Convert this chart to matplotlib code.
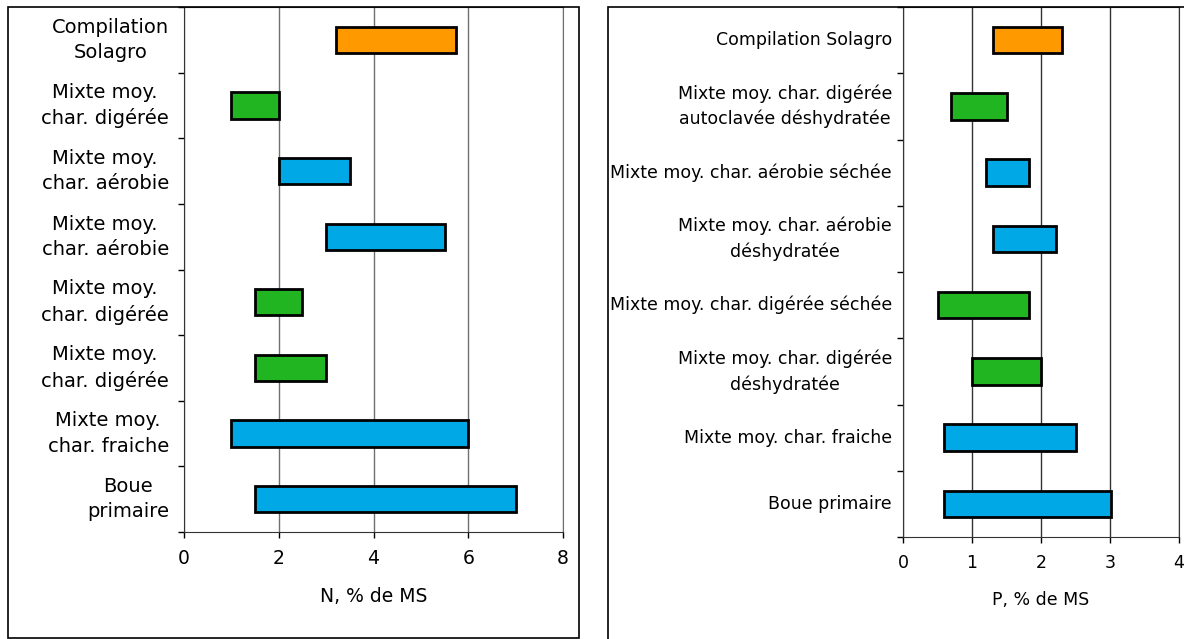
import matplotlib
matplotlib.use('Agg')
import matplotlib.pyplot as plt
from matplotlib.patches import Rectangle

# ── data (top to bottom) ──
n_labels = ['Compilation\nSolagro', 'Mixte moy.\nchar. digérée', 'Mixte moy.\nchar. aérobie',
            'Mixte moy.\nchar. aérobie', 'Mixte moy.\nchar. digérée', 'Mixte moy.\nchar. digérée',
            'Mixte moy.\nchar. fraiche', 'Boue\nprimaire']
n_low = [3.2, 1.0, 2.0, 3.0, 1.5, 1.5, 1.0, 1.5]
n_high = [5.75, 2.0, 3.5, 5.5, 2.5, 3.0, 6.0, 7.0]
n_kind = ['ref', 'dig', 'aer', 'aer', 'dig', 'dig', 'aer', 'aer']

p_labels = ['Compilation Solagro', 'Mixte moy. char. digérée\nautoclavée déshydratée',
            'Mixte moy. char. aérobie séchée', 'Mixte moy. char. aérobie\ndéshydratée',
            'Mixte moy. char. digérée séchée', 'Mixte moy. char. digérée\ndéshydratée',
            'Mixte moy. char. fraiche', 'Boue primaire']
p_low = [1.3, 0.7, 1.2, 1.3, 0.5, 1.0, 0.6, 0.6]
p_high = [2.3, 1.5, 1.82, 2.22, 1.82, 2.0, 2.5, 3.02]
p_kind = ['ref', 'dig', 'aer', 'aer', 'dig', 'dig', 'aer', 'aer']

colors = {'ref': '#FF9900', 'dig': '#21B521', 'aer': '#00A8E6'}

W, H = 1184, 639
fig = plt.figure(figsize=(W / 100, H / 100), dpi=100)


def px(x0, y0, x1, y1):
    return [x0 / W, 1 - y1 / H, (x1 - x0) / W, (y1 - y0) / H]


def panel(rect, labels, low, high, kind, xmax, xlabel, lab_fs, lab_ls, tick_fs, grid_col):
    ax = fig.add_axes(rect)
    n = len(labels)
    ypos = [n - 1 - i for i in range(n)]
    widths = [h - l for l, h in zip(low, high)]
    ax.barh(ypos, widths, left=low, height=0.4, color=[colors[k] for k in kind],
            edgecolor='black', linewidth=2, zorder=3)
    ax.set_xlim(0, xmax)
    ax.set_ylim(-0.5, n - 0.5)
    ax.set_xticks(range(0, xmax + 1, 2 if xmax == 8 else 1))
    ax.tick_params(axis='x', labelsize=tick_fs, length=4, width=1, pad=8)
    ax.set_yticks([i - 0.5 for i in range(n + 1)])
    ax.set_yticklabels([])
    ax.tick_params(axis='y', length=4, width=1)
    for y, lab in zip(ypos, labels):
        ax.text(-0.04, y, lab, transform=ax.get_yaxis_transform(), ha='right', va='center',
                multialignment='center', fontsize=lab_fs, linespacing=lab_ls)
    ax.grid(axis='x', color=grid_col, linewidth=1, zorder=0)
    for s in ax.spines.values():
        s.set_color('#333333')
    ax.set_xlabel(xlabel, fontsize=tick_fs, labelpad=14)
    return ax


ax1 = panel(px(184, 7, 563, 532), n_labels, n_low, n_high, n_kind, 8,
            'N, % de MS', 14, 1.42, 13.5, '#707070')
ax1.spines['right'].set_color('#707070')
ax2 = panel(px(903, 7, 1179, 537), p_labels, p_low, p_high, p_kind, 4,
            'P, % de MS', 12.5, 1.5, 12.5, '#333333')

# outer frames around each panel
fig.patches.append(Rectangle((8 / W, 1 - 638 / H), (579 - 8) / W, (638 - 7) / H,
                             transform=fig.transFigure, fill=False, edgecolor='black', linewidth=1.2))
fig.patches.append(Rectangle((608 / W, -0.05), (1200 - 608) / W, 1.05 - 7 / H,
                             transform=fig.transFigure, fill=False, edgecolor='black', linewidth=1.2))

plt.savefig('out.png', dpi=100)
